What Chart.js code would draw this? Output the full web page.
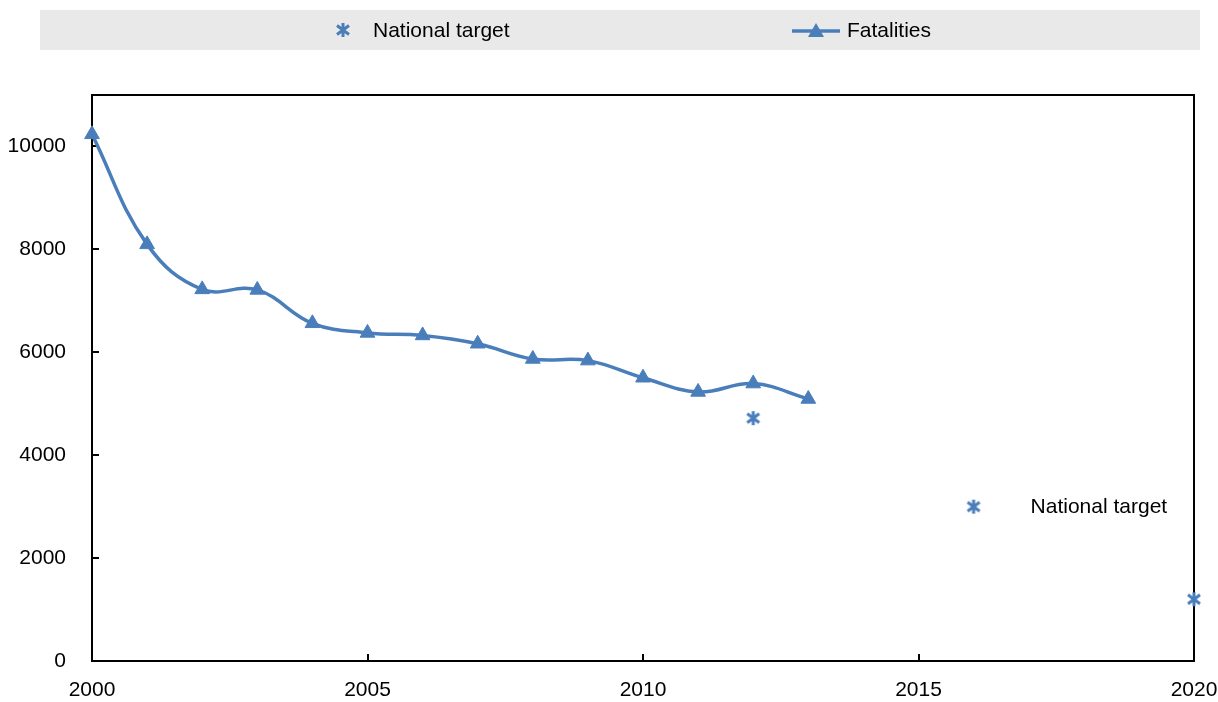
<!DOCTYPE html>
<html><head><meta charset="utf-8">
<script src="https://cdn.jsdelivr.net/npm/chart.js@4"></script>
<style>html,body{margin:0;padding:0;background:#fff}canvas{display:block}</style>
</head><body>
<canvas id="c" width="1218" height="702"></canvas>
<script>
// ---- data ----
const years = [2000,2001,2002,2003,2004,2005,2006,2007,2008,2009,2010,2011,2012,2013];
const fatalities = [10236,8097,7222,7212,6563,6376,6327,6166,5870,5838,5505,5229,5392,5092];
const targetYears = [2012, 2020];
const targetValues = [4720, 1200];
const noteYear = 2016;
const noteValue = 3000;
const noteText = 'National target';
const legendLabels = ['National target', 'Fatalities'];
const xTickValues = [2000, 2005, 2010, 2015, 2020];
const yTickValues = [0, 2000, 4000, 6000, 8000, 10000];

const BLUE = '#4a7ebb';
const FONT = '"Liberation Sans", Arial, sans-serif';

// Excel-style star marker (X with a vertical bar)
function makeStar(size) {
  const cv = document.createElement('canvas');
  cv.width = size; cv.height = size;
  const g = cv.getContext('2d');
  g.strokeStyle = BLUE; g.lineWidth = 3; g.lineCap = 'butt';
  const m = 2, s = size - 2;
  g.beginPath();
  g.moveTo(m, m + 1.5); g.lineTo(s, s - 1.5);
  g.moveTo(s, m + 1.5); g.lineTo(m, s - 1.5);
  g.moveTo(size / 2, 1); g.lineTo(size / 2, size - 1);
  g.stroke();
  return cv;
}
const star = makeStar(16);

const framePlugin = {
  id: 'frame',
  beforeDraw(chart) {
    const ctx = chart.ctx;
    ctx.save();
    ctx.fillStyle = '#e9e9e9';
    ctx.fillRect(40, 10, 1160, 40);
    ctx.restore();
  },
  beforeDatasetsDraw(chart) {
    const {ctx, chartArea: a, scales: {x, y}} = chart;
    ctx.save();
    ctx.strokeStyle = '#000';
    ctx.lineWidth = 2;
    ctx.strokeRect(a.left, a.top, a.right - a.left, a.bottom - a.top);
    ctx.beginPath();
    yTickValues.forEach(v => {
      const py = Math.round(y.getPixelForValue(v));
      ctx.moveTo(a.left, py); ctx.lineTo(a.left + 7, py);
    });
    xTickValues.forEach(v => {
      const px = Math.round(x.getPixelForValue(v));
      ctx.moveTo(px, a.bottom); ctx.lineTo(px, a.bottom - 7);
    });
    ctx.stroke();
    ctx.restore();
  },
  afterDraw(chart) {
    const {ctx, scales: {x, y}} = chart;
    ctx.save();
    ctx.font = '21px ' + FONT;
    ctx.fillStyle = '#000';
    ctx.textBaseline = 'middle';
    // legend item 1
    ctx.drawImage(star, 343 - 8, 30 - 8);
    ctx.fillText(legendLabels[0], 373, 31);
    // legend item 2
    ctx.strokeStyle = BLUE; ctx.lineWidth = 3.5;
    ctx.beginPath(); ctx.moveTo(792, 31); ctx.lineTo(840, 31); ctx.stroke();
    ctx.fillStyle = BLUE;
    ctx.beginPath(); ctx.moveTo(816, 23); ctx.lineTo(824, 37); ctx.lineTo(808, 37); ctx.closePath(); ctx.fill();
    ctx.fillStyle = '#000';
    ctx.fillText(legendLabels[1], 847, 31);
    // in-plot note
    const nx = x.getPixelForValue(noteYear), ny = y.getPixelForValue(noteValue);
    ctx.drawImage(star, nx - 8, ny - 8);
    ctx.fillText(noteText, nx + 57, ny + 1);
    ctx.restore();
  }
};

new Chart(document.getElementById('c'), {
  type: 'line',
  data: {
    datasets: [
      {
        label: legendLabels[1],
        data: years.map((yr, i) => ({x: yr, y: fatalities[i]})),
        borderColor: BLUE,
        backgroundColor: BLUE,
        borderWidth: 3.5,
        tension: 0.4,
        pointStyle: 'triangle',
        pointRadius: 8.5,
        pointBorderWidth: 1,
        pointBackgroundColor: BLUE,
        pointBorderColor: BLUE,
        clip: false,
        order: 2
      },
      {
        label: legendLabels[0],
        data: targetYears.map((yr, i) => ({x: yr, y: targetValues[i]})),
        showLine: false,
        pointStyle: star,
        pointRadius: 8,
        borderColor: BLUE,
        backgroundColor: BLUE,
        clip: false,
        order: 1
      }
    ]
  },
  options: {
    responsive: false,
    animation: false,
    devicePixelRatio: 1,
    layout: {padding: {top: 95, right: 24, left: 0, bottom: 0}},
    plugins: {legend: {display: false}, tooltip: {enabled: false}},
    scales: {
      x: {
        type: 'linear',
        min: 2000, max: 2020,
        grid: {display: false, drawTicks: false},
        border: {display: false},
        afterBuildTicks: s => { s.ticks = xTickValues.map(v => ({value: v})); },
        afterFit: s => { s.height = 41; s.paddingLeft = 0; s.paddingRight = 0; },
        ticks: {
          padding: 17,
          maxRotation: 0,
          autoSkip: false,
          color: '#000',
          font: {family: FONT, size: 21},
          callback: v => String(v)
        }
      },
      y: {
        min: 0, max: 11000,
        grid: {display: false, drawTicks: false},
        border: {display: false},
        afterBuildTicks: s => { s.ticks = yTickValues.map(v => ({value: v})); },
        afterFit: s => { s.width = 92; s.paddingTop = 0; s.paddingBottom = 0; },
        ticks: {
          padding: 26,
          color: '#000',
          font: {family: FONT, size: 21},
          callback: v => String(v)
        }
      }
    }
  },
  plugins: [framePlugin]
});
</script>
</body></html>
